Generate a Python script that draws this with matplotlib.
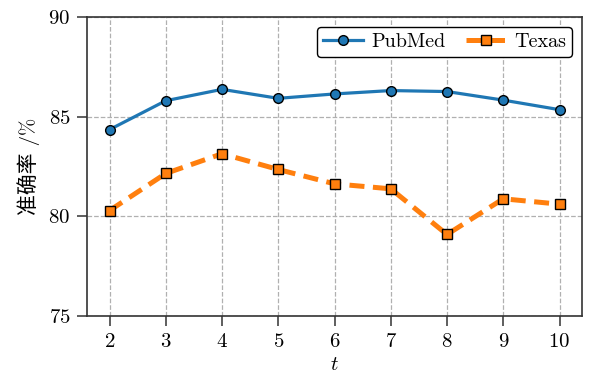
import matplotlib
matplotlib.use("Agg")
import matplotlib.pyplot as plt

t_values = [2, 3, 4, 5, 6, 7, 8, 9, 10]
pubmed = [84.35, 85.80, 86.37, 85.92, 86.14, 86.31, 86.26, 85.83, 85.35]
texas = [80.29, 82.15, 83.14, 82.35, 81.63, 81.38, 79.09, 80.88, 80.61]
y_ticks = [75, 80, 85, 90]

plt.rcParams['font.family'] = ['cmr10', 'Noto Sans CJK SC', 'DejaVu Sans']
plt.rcParams['mathtext.fontset'] = 'cm'
plt.rcParams['axes.formatter.use_mathtext'] = True
plt.rcParams['axes.unicode_minus'] = False

fig = plt.figure(figsize=(5.93, 3.79), dpi=100)
ax = fig.add_axes([87/593, 1-316/379, (582-87)/593, (316-17)/379])

ax.plot(t_values, pubmed, color='#1f77b4', lw=2.3, marker='o', ms=7,
        mec='black', mew=1.0, label='PubMed', zorder=3)
ax.plot(t_values, texas, color='#ff7f0e', lw=3.6, ls=(0, (3.0, 1.7)), marker='s', ms=7,
        mec='black', mew=1.0, label='Texas', zorder=3)

ax.set_xlim(1.6, 10.4)
ax.set_ylim(75, 90)
ax.set_xticks(t_values)
ax.set_yticks(y_ticks)
ax.tick_params(labelsize=15, length=7, width=1.1, color='#333333', pad=5)
ax.grid(True, ls='--', color='#b0b0b0', lw=0.9)
for s in ax.spines.values():
    s.set_color('#333333')
    s.set_linewidth(1.2)

ax.set_xlabel('$t$', fontsize=15, labelpad=4)
ax.set_ylabel('准确率 /%', fontsize=15, labelpad=6)

leg = ax.legend(loc='upper right', ncol=2, fontsize=14.5, frameon=True, fancybox=True,
                edgecolor='black', framealpha=1, handlelength=2.0, columnspacing=1.0,
                borderpad=0.3, handletextpad=0.4, borderaxespad=0.5)
leg.get_frame().set_linewidth(1.0)

fig.savefig('out.png', dpi=100)
